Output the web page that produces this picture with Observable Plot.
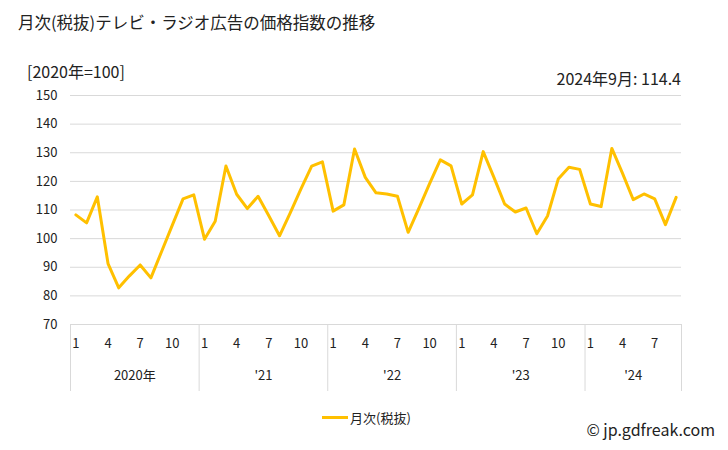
<!DOCTYPE html>
<html>
<head>
<meta charset="utf-8">
<script src="https://cdn.jsdelivr.net/npm/d3@7"></script>
<script src="https://cdn.jsdelivr.net/npm/@observablehq/plot@0.6"></script>
<style>
  body { margin: 0; background: #fff; font-family: "Noto Sans CJK JP", "Noto Sans", sans-serif; }
  #wrap { position: relative; width: 728px; height: 450px; }
  .t { position: absolute; white-space: nowrap; color: #222; line-height: 1; }
  #chart { position: absolute; left: 0; top: 0; }
</style>
</head>
<body>
<div id="wrap">
  <div id="chart"></div>
  <div class="t" style="left:18px; top:14px; font-size:16.5px;">月次(税抜)テレビ・ラジオ広告の価格指数の推移</div>
  <div class="t" style="left:27px; top:63px; font-size:16px;">[2020年=100]</div>
  <div class="t" style="right:47px; top:70px; font-size:16px;">2024年9月: 114.4</div>
  <div class="t" style="left:322px; top:411px; font-size:13px; display:flex; align-items:center;">
    <span style="display:inline-block; width:26px; height:3px; background:#ffc000; margin-right:2px;"></span>月次(税抜)
  </div>
  <div class="t" style="right:13px; top:421px; font-size:16px;">© jp.gdfreak.com</div>
</div>
<script>
const years = ["2020年", "'21", "'22", "'23", "'24"];
const monthTicks = [1, 4, 7, 10];
const yTicks = [70, 80, 90, 100, 110, 120, 130, 140, 150];
const values = [
  108.3, 105.5, 114.6, 91.3, 82.8, 87.0, 90.8, 86.3, 95.5, 104.7, 113.9, 115.3,
  99.8, 106.1, 125.4, 115.5, 110.5, 114.8, 108.0, 101.0, 109.0, 117.4, 125.3, 126.8,
  109.6, 111.8, 131.3, 121.4, 116.0, 115.6, 114.8, 102.2, 110.6, 119.2, 127.5, 125.4,
  112.1, 115.3, 130.4, 121.4, 112.1, 109.3, 110.7, 101.7, 107.9, 120.8, 124.9, 124.2,
  112.1, 111.2, 131.5, 122.8, 113.6, 115.6, 113.9, 104.9, 114.4
];

const data = values.map((v, i) => ({i, v, year: Math.floor(i / 12), month: (i % 12) + 1}));
const n = values.length;
const monthIdx = data.filter(d => monthTicks.includes(d.month)).map(d => d.i);
const boundaries = [-0.5, ...years.map((_, k) => Math.min(k * 12 + 11.5, n - 0.5))];
const yearCenters = years.map((_, k) => (k * 12 - 0.5 + Math.min(k * 12 + 11.5, n - 0.5)) / 2);

const font = '"Noto Sans CJK JP", "Noto Sans", sans-serif';
const chart = Plot.plot({
  width: 728,
  height: 450,
  marginLeft: 70,
  marginRight: 47,
  marginTop: 95,
  marginBottom: 126,
  style: {fontFamily: font, fontSize: "13px", color: "#222", background: "transparent"},
  x: {domain: [-0.5, n - 0.5], axis: null},
  y: {domain: [70, 150], axis: null},
  marks: [
    Plot.ruleY(yTicks, {stroke: "#d9d9d9", strokeWidth: 1}),
    Plot.axisY({ticks: yTicks, tickSize: 0, tickPadding: 13, fontSize: 13, fill: "#222", label: null}),
    Plot.axisX({ticks: boundaries, tickSize: 67, tickFormat: () => "", stroke: "#d9d9d9", strokeOpacity: 1, label: null}),
    Plot.axisX({ticks: monthIdx, tickSize: 0, tickPadding: 14, tickFormat: i => String((i % 12) + 1), fontSize: 13, fill: "#222", label: null}),
    Plot.axisX({ticks: yearCenters, tickSize: 0, tickPadding: 46, tickFormat: (c, k) => years[k], fontSize: 13, fill: "#222", label: null}),
    Plot.line(data, {x: "i", y: "v", stroke: "#ffc000", strokeWidth: 3, strokeLinejoin: "round"})
  ]
});
document.getElementById("chart").appendChild(chart);
</script>
</body>
</html>
